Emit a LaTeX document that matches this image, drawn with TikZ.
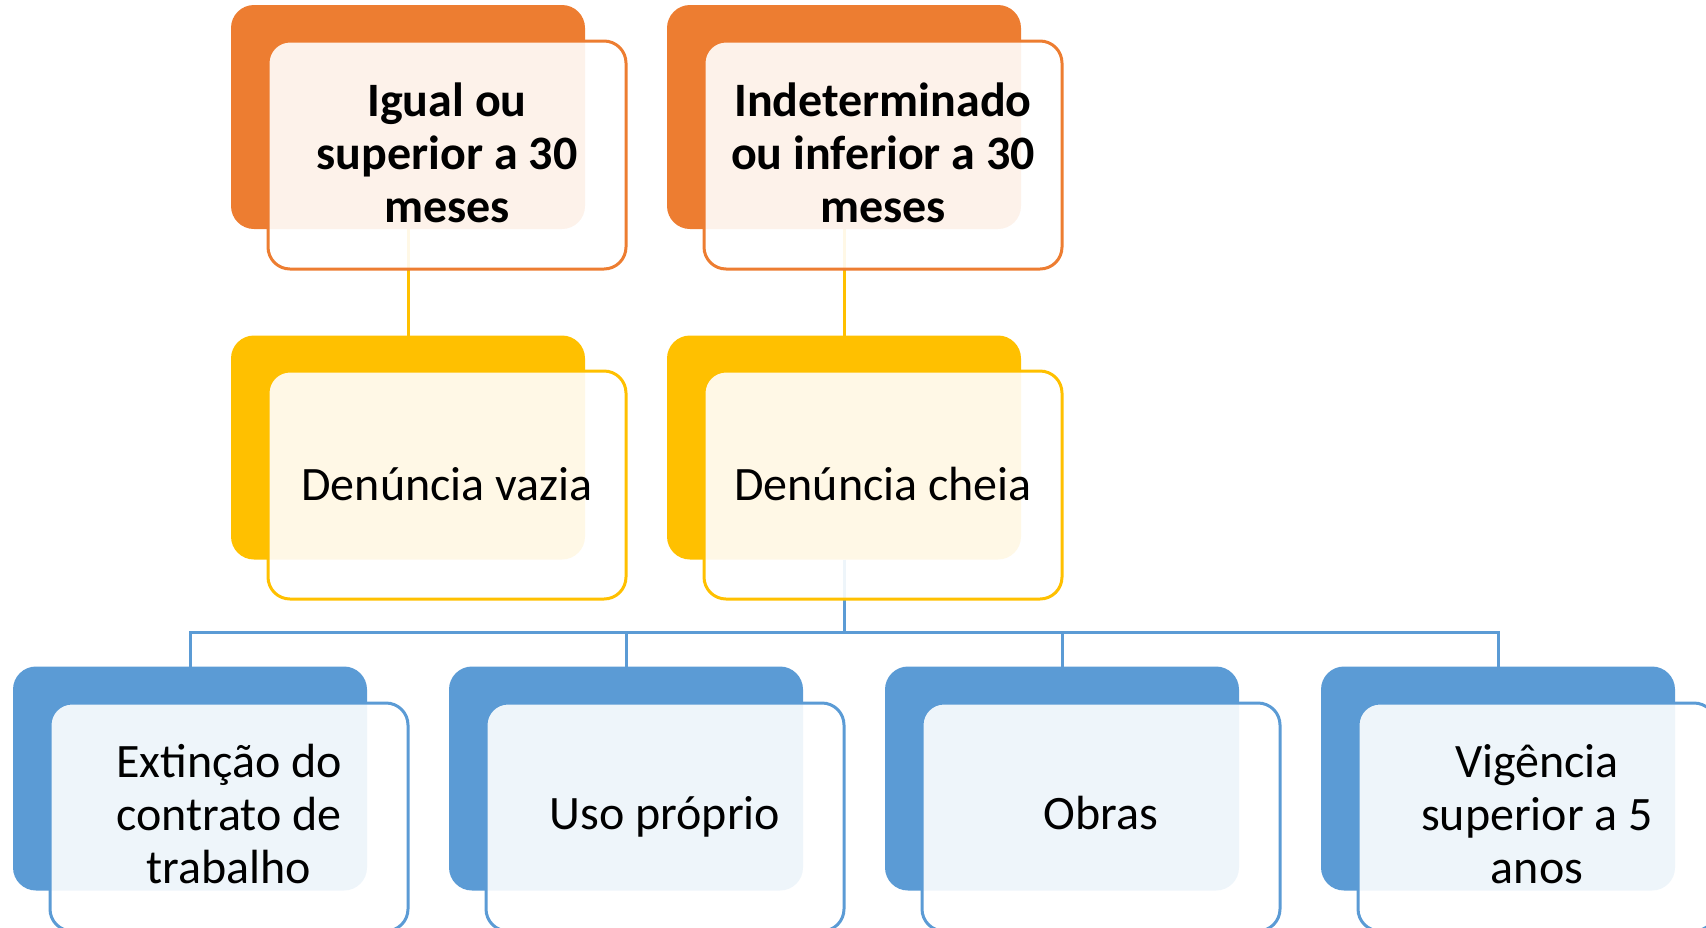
\documentclass[tikz,border=0pt]{standalone}
\usepackage{fontspec}
\setmainfont{Carlito}
\usetikzlibrary{backgrounds}
\definecolor{orng}{HTML}{ED7D31}
\definecolor{yel}{HTML}{FFC000}
\definecolor{blu}{HTML}{5B9BD5}
\newcommand\lastdp{\rule[-2.8pt]{0pt}{0pt}}
\begin{document}
\begin{tikzpicture}[x=0.5pt,y=-0.5pt,
  back/.style={rectangle, rounded corners=11.5pt, minimum width=177pt, minimum height=112pt,
    inner sep=0pt, outer sep=0pt, fill=#1},
  front/.style={rectangle, rounded corners=11pt, minimum width=179pt, minimum height=114pt,
    inner sep=0pt, outer sep=0pt, draw=#1, line width=1.5pt, fill=white, fill opacity=0.9,
    text opacity=1, align=center, text=black, font=\fontsize{24pt}{26.5pt}\selectfont},
  oneline/.style={text height=17pt, text depth=4.5pt},
  link/.style={line width=1.5pt, draw=#1}]
\useasboundingbox (0,0) rectangle (1706,927);

% top row
\node[back=orng] (b1) at (408,117) {};
\node[front=orng] (f1) at (447,155) {\textbf{Igual ou}\\\textbf{superior a 30}\\\textbf{meses}\lastdp};
\node[back=orng] (b2) at (844,117) {};
\node[front=orng] (f2) at (883,155) {\textbf{Indeterminado}\\\textbf{ou inferior a 30}\\\textbf{meses}\lastdp};

% middle row
\node[back=yel] (c1) at (408,447.5) {};
\node[front=yel] (g1) at (447,485) {Denúncia vazia\rule[-0.8pt]{0pt}{0pt}};
\node[back=yel] (c2) at (844,447.5) {};
\node[front=yel] (g2) at (883,485) {Denúncia cheia\rule[-0.8pt]{0pt}{0pt}};

% bottom row
\node[back=blu] (d1) at (190,778.5) {};
\node[front=blu] (h1) at (229,817) {Extinção do\\contrato de\\trabalho\lastdp};
\node[back=blu] (d2) at (626,778.5) {};
\node[front=blu, oneline] (h2) at (665,817) {Uso próprio};
\node[back=blu] (d3) at (1062,778.5) {};
\node[front=blu, oneline] (h3) at (1101,817) {Obras};
\node[back=blu] (d4) at (1498,778.5) {};
\node[front=blu] (h4) at (1537,817) {Vigência\\superior a 5\\anos\lastdp};

\coordinate (bus) at (844,632);

\begin{scope}[on background layer]
  \draw[link=yel] (b1.south) -- (c1.north);
  \draw[link=yel] (b2.south) -- (c2.north);
  \draw[link=blu] (c2.south) -- (bus);
  \draw[link=blu] (bus) -| (d1.north);
  \draw[link=blu] (bus) -| (d2.north);
  \draw[link=blu] (bus) -| (d3.north);
  \draw[link=blu] (bus) -| (d4.north);
\end{scope}
\end{tikzpicture}
\end{document}
